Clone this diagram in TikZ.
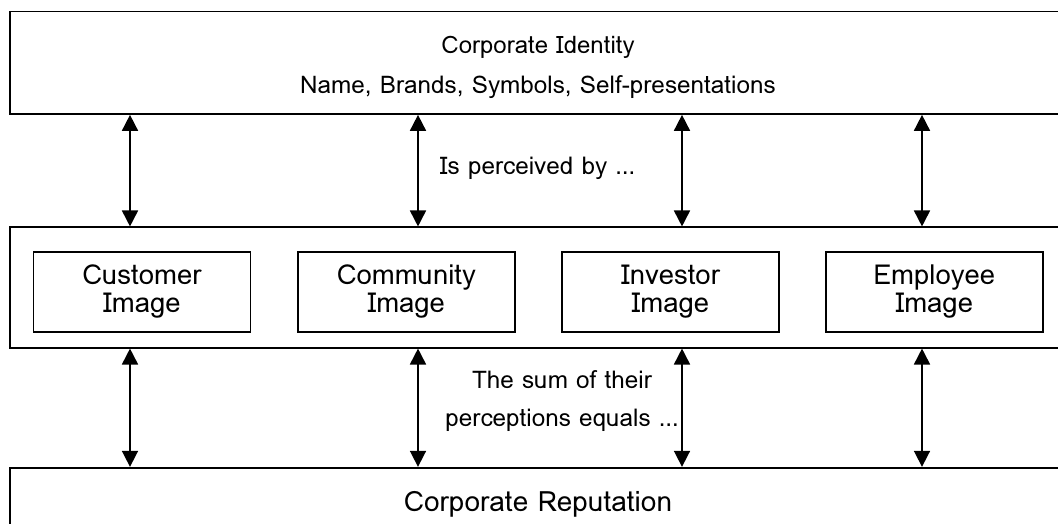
\documentclass[tikz,border=0pt]{standalone}
\usepackage{fontspec}
\setmainfont{Loma}
\usetikzlibrary{arrows.meta, positioning}

\begin{document}
\begin{tikzpicture}[
  x=1pt, y=-1pt,
  bigbox/.style={draw, rectangle, line width=1.7pt, minimum width=1056pt, inner sep=0pt},
  imgbox/.style={draw, rectangle, line width=1.7pt, minimum width=217pt, minimum height=80.6pt,
    align=center, font=\fontsize{27.5}{28}\selectfont},
  lbl/.style={anchor=base, inner sep=0pt, font=\fontsize{24.3}{38}\selectfont},
  arr/.style={{Triangle[length=16pt,width=16pt]}-{Triangle[length=16pt,width=16pt]}, line width=1.7pt}
]
\useasboundingbox (0,0) rectangle (1058,524);
\clip (0,0) rectangle (1058,524);

% three layers
\node[bigbox, minimum height=102.5pt] (identity) at (538,62.75) {};
\node[bigbox, minimum height=120.4pt] (images) at (538,287.5) {};
\node[bigbox, minimum height=71.6pt] (reputation) at (538,503.5) {};

\node[lbl, font=\fontsize{24}{24}\selectfont] (idname) at (538,54) {Corporate Identity};
\node[lbl] (idparts) at (538,94) {Name, Brands, Symbols, Self-presentations};
\node[lbl, font=\fontsize{28}{30}\selectfont] (repname) at (538,511.7) {Corporate Reputation};

% stakeholder images
\node[imgbox] (customer) at (141.9,292) {Customer\\Image};
\node[imgbox] (community) at (406.3,292) {Community\\Image};
\node[imgbox] (investor) at (670.5,292) {Investor\\Image};
\node[imgbox] (employee) at (934.3,292) {Employee\\Image};

% links between layers
\foreach \x in {130,418,682,922} {
  \draw[arr] (\x,0 |- identity.south) -- (\x,0 |- images.north);
  \draw[arr] (\x,0 |- images.south) -- (\x,0 |- reputation.north);
}

\node[lbl] (perceived) at (537.5,175) {Is perceived by …};
\node[lbl, anchor=center, align=center] (sum) at (562,401) {The sum of their\\perceptions equals …};
\end{tikzpicture}
\end{document}
